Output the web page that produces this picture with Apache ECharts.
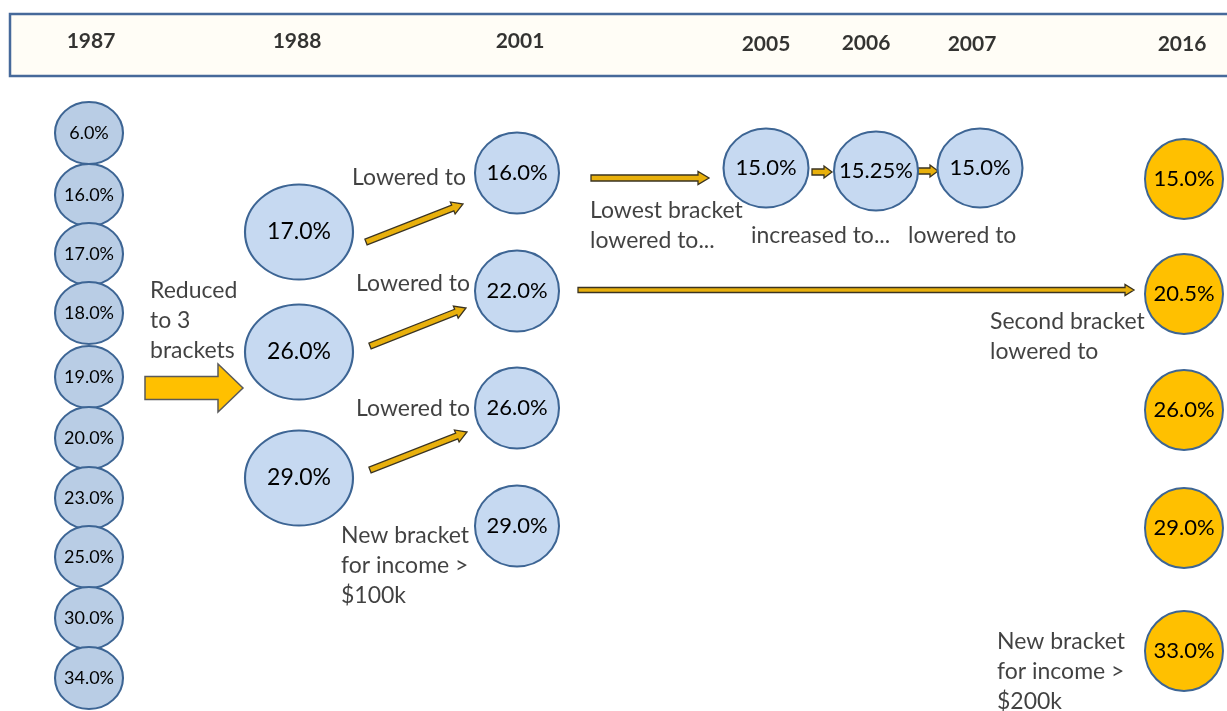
<!DOCTYPE html>
<html>
<head>
<meta charset="utf-8">
<script src="https://cdn.jsdelivr.net/npm/echarts@6/dist/echarts.min.js"></script>
<style>
  html, body { margin: 0; padding: 0; background: #fff; }
  #main { width: 1227px; height: 711px; }
</style>
</head>
<body>
<div id="main"></div>
<script>
  // data
  var years = ['1987', '1988', '2001', '2005', '2006', '2007', '2016'];
  var rates1987 = [6.0, 16.0, 17.0, 18.0, 19.0, 20.0, 23.0, 25.0, 30.0, 34.0];
  var rates1988 = [17.0, 26.0, 29.0];
  var rates2001 = [16.0, 22.0, 26.0, 29.0];
  var rates2005 = [15.0];
  var rates2006 = [15.25];
  var rates2007 = [15.0];
  var rates2016 = [15.0, 20.5, 26.0, 29.0, 33.0];
  var notes = [
    'Reduced\nto 3\nbrackets',
    'Lowered to', 'Lowered to', 'Lowered to',
    'New bracket\nfor income >\n$100k',
    'Lowest bracket\nlowered to...',
    'increased to...',
    'lowered to',
    'Second bracket\nlowered to',
    'New bracket\nfor income >\n$200k'
  ];

  // layout (pixel units of the hidden axes)
  var yearX = [91, 297, 520, 766, 866, 972, 1182];
  var yearY = [41, 41, 41, 44, 43, 44, 44];
  var colX = { c1987: 89, c1988: 299, c2001: 517, c2005: 766, c2006: 876, c2007: 980, c2016: 1184 };
  var rowY = {
    c1987: [133, 195, 254, 313, 377, 438, 498, 557, 618, 678],
    c1988: [232, 352, 478],
    c2001: [173, 291, 408, 526],
    c2005: [168], c2006: [171], c2007: [168],
    c2016: [179, 294, 410, 528, 651]
  };
  var notePos = [
    [150, 291, 'left'], [466, 178, 'right'], [470, 284, 'right'], [470, 409, 'right'],
    [341, 536, 'left'], [590, 211, 'left'], [751, 236, 'left'], [908, 236, 'left'],
    [990, 322, 'left'], [997, 642, 'left']
  ];
  // x1, y1, x2, y2, shaft width, head width, head length
  var thinArrows = [
    [366, 242, 463, 204, 6, 13, 11],
    [370, 346, 466, 308, 6, 13, 11],
    [370, 470, 467, 432, 6, 13, 11],
    [591, 178, 709, 178, 6, 13, 11],
    [812, 172, 832, 172, 6, 12, 8],
    [918, 171, 938, 171, 6, 12, 8],
    [578, 290, 1134, 290, 5, 11, 9]
  ];
  var bigArrows = [[145, 388, 243, 388, 23, 48, 25]];

  var FONT = 'Lato, "Open Sans", sans-serif';
  var ELLIPSE = 'path://M50,0 C77.6,0 100,22.4 100,50 C100,77.6 77.6,100 50,100 C22.4,100 0,77.6 0,50 C0,22.4 22.4,0 50,0 Z';

  function fmt(v) {
    return (Math.round(v * 10) === v * 10 ? v.toFixed(1) : v.toFixed(2)) + '%';
  }

  function bubbles(key, rates, size, fill, fontSize) {
    return {
      type: 'scatter',
      z: 5,
      symbol: ELLIPSE,
      symbolSize: size,
      silent: true,
      data: rates.map(function (r, i) { return { value: [colX[key], rowY[key][i]], rate: r }; }),
      itemStyle: { color: fill, borderColor: '#3d6594', borderWidth: 2, opacity: 1 },
      label: {
        show: true, position: 'inside', color: '#000',
        fontFamily: FONT, fontSize: fontSize,
        formatter: function (p) { return fmt(p.data.rate); }
      }
    };
  }

  function renderArrow(params, api) {
    var a = api.coord([api.value(0), api.value(1)]);
    var b = api.coord([api.value(2), api.value(3)]);
    var sw = api.value(4) / 2, hw = api.value(5) / 2, hl = api.value(6);
    var dx = b[0] - a[0], dy = b[1] - a[1];
    var len = Math.sqrt(dx * dx + dy * dy);
    var ux = dx / len, uy = dy / len, nx = -uy, ny = ux;
    var bx = b[0] - ux * hl, by = b[1] - uy * hl;
    return {
      type: 'polygon',
      shape: {
        points: [
          [a[0] + nx * sw, a[1] + ny * sw],
          [bx + nx * sw, by + ny * sw],
          [bx + nx * hw, by + ny * hw],
          [b[0], b[1]],
          [bx - nx * hw, by - ny * hw],
          [bx - nx * sw, by - ny * sw],
          [a[0] - nx * sw, a[1] - ny * sw]
        ]
      },
      style: api.style()
    };
  }

  var chart = echarts.init(document.getElementById('main'));
  chart.setOption({
    animation: false,
    backgroundColor: '#ffffff',
    grid: { left: 0, right: 0, top: 0, bottom: 0 },
    xAxis: { type: 'value', min: 0, max: 1227, show: false },
    yAxis: { type: 'value', min: 0, max: 711, inverse: true, show: false },
    graphic: [{
      type: 'rect', z: 0,
      shape: { x: 10, y: 14, width: 1240, height: 62 },
      style: { fill: '#fffdf6', stroke: '#46699a', lineWidth: 2.5 }
    }],
    series: [
      {
        type: 'scatter', z: 6, symbolSize: 0, silent: true,
        data: years.map(function (y, i) { return { value: [yearX[i], yearY[i]], name: y }; }),
        label: {
          show: true, position: 'inside', formatter: '{b}',
          color: '#000', fontFamily: FONT, fontWeight: 'bold', fontSize: 21
        }
      },
      bubbles('c1987', rates1987, [68, 62], '#b9cde5', 18),
      bubbles('c1988', rates1988, [108, 95], '#c6d9f1', 23),
      bubbles('c2001', rates2001, [84, 81], '#c6d9f1', 22),
      bubbles('c2005', rates2005, [85, 79], '#c6d9f1', 22),
      bubbles('c2006', rates2006, [84, 79], '#c6d9f1', 22),
      bubbles('c2007', rates2007, [85, 79], '#c6d9f1', 22),
      bubbles('c2016', rates2016, [78, 80], '#ffc000', 22),
      {
        type: 'custom', z: 4, silent: true,
        renderItem: renderArrow,
        encode: { x: [0, 2], y: [1, 3] },
        itemStyle: { color: '#e8b00c', borderColor: '#3a3320', borderWidth: 1.3 },
        data: thinArrows
      },
      {
        type: 'custom', z: 4, silent: true,
        renderItem: renderArrow,
        encode: { x: [0, 2], y: [1, 3] },
        itemStyle: { color: '#ffc000', borderColor: '#5a5a5a', borderWidth: 1.5 },
        data: bigArrows
      },
      {
        type: 'scatter', z: 6, symbolSize: 0, silent: true,
        data: notes.map(function (t, i) {
          return {
            value: [notePos[i][0], notePos[i][1] - 15], text: t,
            label: { align: notePos[i][2] }
          };
        }),
        label: {
          show: true, position: [0, 0], verticalAlign: 'top',
          color: '#111', fontFamily: FONT, fontSize: 23, lineHeight: 30,
          formatter: function (p) { return p.data.text; }
        }
      }
    ]
  });
</script>
</body>
</html>
